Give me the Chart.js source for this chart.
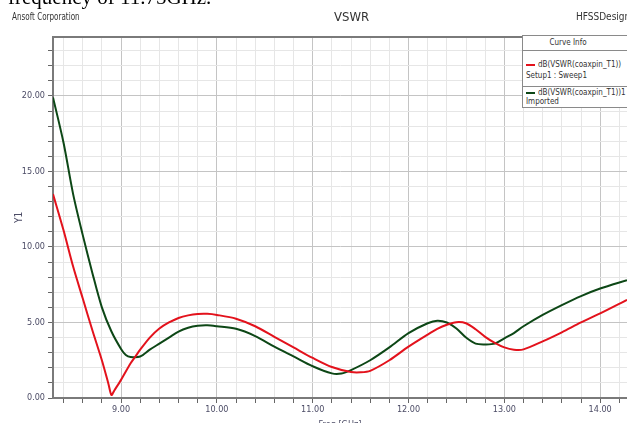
<!DOCTYPE html>
<html>
<head>
<meta charset="utf-8">
<script src="https://cdn.jsdelivr.net/npm/chart.js@4.4.0/dist/chart.umd.min.js"></script>
<style>
  html, body { margin: 0; padding: 0; background: #fff; }
  #wrap { position: relative; width: 627px; height: 423px; overflow: hidden; background: #fff; }
  #plot { position: absolute; left: 0; top: 0; width: 627px; height: 432px; }
  .t { position: absolute; white-space: nowrap; color: #333; transform-origin: left top;
       font-family: 'Liberation Sans Narrow', 'DejaVu Sans Condensed', 'Liberation Sans', Arial, sans-serif; }
  #caption { position: absolute; left: 8px; top: -13px; font: 21px/21px 'Liberation Serif', 'Times New Roman', serif; color: #000; white-space: nowrap; }
  #legendBox { position: absolute; left: 522px; top: 35px; width: 120px; height: 71px;
               border: 1px solid #8a8a8a; background: #fff; }
  .sep { position: absolute; left: 0; width: 100%; height: 0; border-top: 1px solid #8a8a8a; }
  .swatch { position: absolute; width: 9px; height: 2px; }
  .lt { position: absolute; white-space: nowrap; font-size: 8px; line-height: 10px; color: #333;
        font-family: 'Liberation Sans Narrow', 'DejaVu Sans Condensed', 'Liberation Sans', Arial, sans-serif; }
</style>
</head>
<body>
<div id="wrap">
  <div id="plot"><canvas id="c" width="627" height="432"></canvas></div>
  <div id="caption">frequency of 11.75GHz.</div>
  <div class="t" style="left:12px; top:11px; font-size:10px; line-height:12px; transform: scaleX(0.8);">Ansoft Corporation</div>
  <div class="t" style="left:334px; top:9px; font-size:13px; line-height:15px;">VSWR</div>
  <div class="t" style="left:576px; top:11px; font-size:10px; line-height:12px;">HFSSDesign1</div>
  <div id="legendBox">
    <div class="lt" style="left:0; width:90px; text-align:center; top:2px;">Curve Info</div>
    <div class="sep" style="top:14px;"></div>
    <div class="swatch" style="left:3px; top:28px; background:#e3121c;"></div>
    <div class="lt" style="left:15px; top:24px;">dB(VSWR(coaxpin_T1))</div>
    <div class="lt" style="left:3px; top:35px;">Setup1 : Sweep1</div>
    <div class="sep" style="top:50px;"></div>
    <div class="swatch" style="left:3px; top:56px; background:#0d4716;"></div>
    <div class="lt" style="left:15px; top:52px;">dB(VSWR(coaxpin_T1))1</div>
    <div class="lt" style="left:3px; top:61px;">Imported</div>
  </div>
</div>

<script>
// Frequency sweep (GHz) and VSWR in dB for the simulated curve
const sweepFreq = [8.29, 8.4, 8.5, 8.6, 8.7, 8.8, 8.87, 8.9, 8.93, 9.0, 9.1, 9.15, 9.2, 9.3, 9.4, 9.5, 9.6, 9.7, 9.8, 9.9,
  10.0, 10.2, 10.4, 10.6, 10.8, 11.0, 11.2, 11.4, 11.5, 11.6, 11.8, 12.0, 12.2, 12.3, 12.4, 12.5, 12.6,
  12.7, 12.8, 12.9, 13.0, 13.1, 13.2, 13.4, 13.6, 13.8, 14.0, 14.28];
const sweepDb = [13.5, 11.1, 8.7, 6.6, 4.5, 2.5, 0.9, 0.2, 0.5, 1.2, 2.3, 2.75, 3.2, 4.0, 4.6, 5.0, 5.3, 5.47, 5.56, 5.57,
  5.5, 5.25, 4.75, 4.05, 3.35, 2.65, 2.05, 1.72, 1.7, 1.8, 2.5, 3.4, 4.2, 4.57, 4.85, 5.02, 4.95,
  4.55, 4.05, 3.65, 3.35, 3.2, 3.22, 3.75, 4.35, 5.0, 5.6, 6.5];

// Imported measurement
const importedFreq = [8.29, 8.4, 8.5, 8.6, 8.7, 8.8, 8.9, 9.0, 9.05, 9.1, 9.2, 9.3, 9.4, 9.5, 9.6, 9.7, 9.8, 9.9,
  10.0, 10.2, 10.4, 10.6, 10.8, 11.0, 11.2, 11.3, 11.4, 11.6, 11.8, 12.0, 12.2, 12.3, 12.4, 12.5, 12.6,
  12.7, 12.8, 12.9, 13.0, 13.1, 13.2, 13.4, 13.6, 13.8, 14.0, 14.28];
const importedDb = [19.9, 16.9, 13.5, 10.8, 8.3, 6.0, 4.4, 3.25, 2.85, 2.72, 2.75, 3.2, 3.6, 4.0, 4.4, 4.65, 4.78, 4.81,
  4.75, 4.58, 4.1, 3.4, 2.75, 2.1, 1.63, 1.62, 1.85, 2.5, 3.35, 4.3, 4.95, 5.12, 5.0, 4.6, 4.0,
  3.6, 3.55, 3.6, 3.95, 4.3, 4.75, 5.5, 6.15, 6.75, 7.25, 7.8];

// Axis ranges and labelled ticks
const xRange = [8.29, 14.28];
const yRange = [0, 23.9];
const xLabelTicks = [9, 10, 11, 12, 13, 14];
const yLabelTicks = [0, 5, 10, 15, 20];

const FONT = "'Liberation Sans Narrow', 'DejaVu Sans Condensed', 'Liberation Sans', Arial, sans-serif";
const LABEL_COLOR = '#4c4c66';

// minor grid every 0.2 GHz and every 1 dB
const xGrid = [];
for (let i = Math.ceil(xRange[0] * 5 + 1e-9); i <= Math.floor(xRange[1] * 5 + 1e-9); i++) xGrid.push(Math.round(i * 2) / 10);
const yGrid = [];
for (let v = Math.ceil(yRange[0]); v <= Math.floor(yRange[1]); v++) yGrid.push(v);

const isMajor = (list, v) => list.some(m => Math.abs(m - v) < 1e-6);

const frameTop = {
  id: 'frameTop',
  afterDraw(chart) {
    const { ctx, chartArea: a } = chart;
    ctx.save();
    ctx.strokeStyle = '#7a7a7a';
    ctx.lineWidth = 2;
    ctx.beginPath();
    ctx.moveTo(a.left, a.top);
    ctx.lineTo(a.right, a.top);
    ctx.stroke();
    ctx.restore();
  }
};

new Chart(document.getElementById('c'), {
  type: 'line',
  data: {
    datasets: [
      {
        label: 'dB(VSWR(coaxpin_T1))',
        data: sweepFreq.map((f, i) => ({ x: f, y: sweepDb[i] })),
        borderColor: '#e3121c',
        borderWidth: 2
      },
      {
        label: 'dB(VSWR(coaxpin_T1))1',
        data: importedFreq.map((f, i) => ({ x: f, y: importedDb[i] })),
        borderColor: '#0d4716',
        borderWidth: 2
      }
    ]
  },
  options: {
    responsive: false,
    animation: false,
    layout: { padding: { top: 37, right: 0, left: 0, bottom: 0 } },
    plugins: { legend: { display: false }, tooltip: { enabled: false } },
    elements: { point: { radius: 0 }, line: { tension: 0.3, fill: false } },
    scales: {
      x: {
        type: 'linear',
        min: xRange[0],
        max: xRange[1],
        afterBuildTicks(s) { s.ticks = xGrid.map(v => ({ value: v })); },
        afterFit(s) { s.height = 34; },
        ticks: {
          autoSkip: false, maxRotation: 0, minRotation: 0, padding: 1,
          color: LABEL_COLOR, font: { family: FONT, size: 9 },
          callback: v => isMajor(xLabelTicks, v) ? Number(v).toFixed(2) : ''
        },
        grid: {
          color: c => isMajor(xLabelTicks, c.tick.value) ? '#c4c4c4' : '#e6e6e6',
          tickColor: '#666', tickLength: 5, lineWidth: 1
        },
        border: { color: '#7a7a7a', width: 2 },
        title: { display: true, text: 'Freq [GHz]', color: LABEL_COLOR, font: { family: FONT, size: 9 }, padding: { top: 0, bottom: 2 } }
      },
      y: {
        type: 'linear',
        min: yRange[0],
        max: yRange[1],
        afterBuildTicks(s) { s.ticks = yGrid.map(v => ({ value: v })); },
        afterFit(s) { s.width = 53; },
        ticks: {
          autoSkip: false, padding: 3,
          color: LABEL_COLOR, font: { family: FONT, size: 9 },
          callback: v => isMajor(yLabelTicks, v) ? Number(v).toFixed(2) : ''
        },
        grid: {
          color: c => isMajor(yLabelTicks, c.tick.value) ? '#c4c4c4' : '#e6e6e6',
          tickColor: '#666', tickLength: 5, lineWidth: 1
        },
        border: { color: '#7a7a7a', width: 2 },
        title: { display: true, text: 'Y1', color: LABEL_COLOR, font: { family: FONT, size: 10 }, padding: { top: 13, bottom: 0 } }
      }
    }
  },
  plugins: [frameTop]
});
</script>
</body>
</html>
